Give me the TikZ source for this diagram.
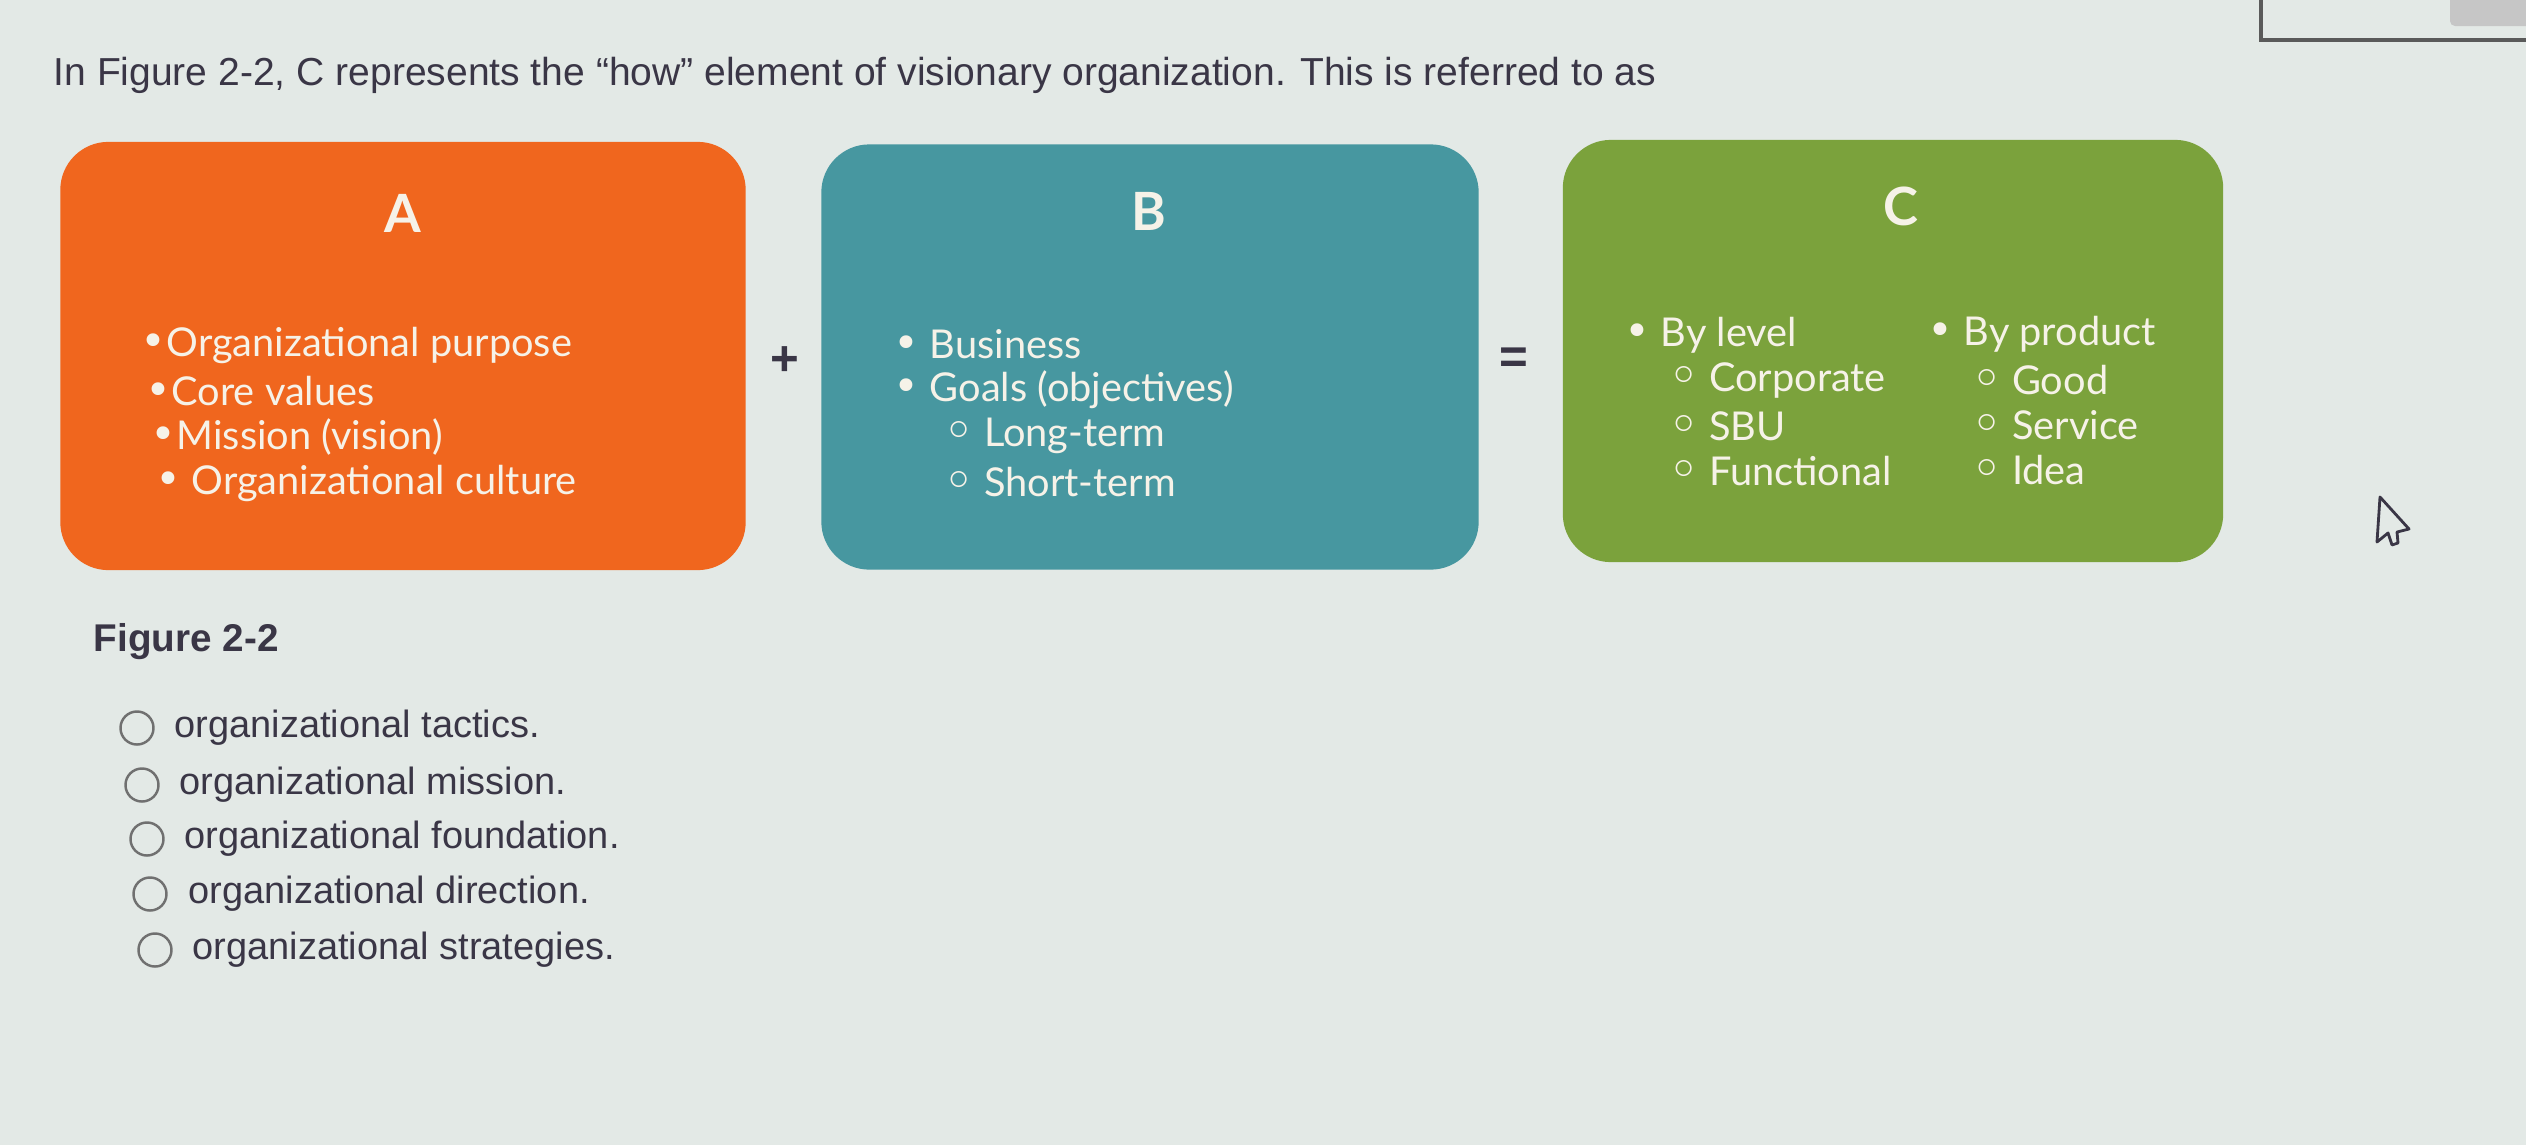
\documentclass[tikz,border=0pt]{standalone}
\usepackage{fontspec}
\setmainfont{Liberation Sans}
\newfontfamily\boxfont{Lato}
\newfontfamily\symfont{DejaVu Sans}
\usetikzlibrary{positioning}

\definecolor{paper}{HTML}{E3E9E6}
\definecolor{ink}{HTML}{3A3646}
\definecolor{ringgray}{HTML}{707070}
\definecolor{orangeA}{HTML}{F0661E}
\definecolor{tealB}{HTML}{4797A0}
\definecolor{greenC}{HTML}{7BA23C}
\definecolor{cardtext}{HTML}{F6F2E8}

\newcommand{\dotb}{{\symfont\fontsize{12.5}{14}\selectfont •}}
\newcommand{\ringb}{{\symfont\bfseries\fontsize{13}{14}\selectfont ◦}}

\tikzset{
	card/.style={rounded corners=0.48cm, inner sep=0pt},
	head/.style={text=cardtext, font=\boxfont\bfseries\fontsize{15}{18}\selectfont},
	item/.style={anchor=west, inner sep=0pt, text=cardtext, font=\boxfont\fontsize{11.3}{14}\selectfont},
	choice/.style={anchor=west, inner sep=0pt, text=ink, font=\fontsize{10.8}{13}\selectfont},
	radio/.style={circle, draw=ringgray, line width=0.7pt, minimum size=0.33cm, inner sep=0pt},
	sign/.style={text=ink, font=\bfseries\fontsize{14}{16}\selectfont}
}

\begin{document}
\begin{tikzpicture}[x=0.01cm, y=-0.01cm]
	\fill[paper] (0,0) rectangle (2526,1145);
	\useasboundingbox (0,0) rectangle (2526,1145);
	% window edge, top right
	\draw[ringgray!80!black, line width=1.2pt] (2261,-10) -- (2261,40) -- (2540,40);
	\fill[gray!45, rounded corners=0.05cm] (2450,-10) rectangle (2540,26);
	% question
	\node[anchor=base west, inner sep=0pt, text=ink, font=\fontsize{11.1}{13}\selectfont] (question) at (53,85) {In Figure 2-2, C represents the “how” element of visionary organization. This is referred to as};
	% A
	\node[card, fill=orangeA, minimum width=6.85cm, minimum height=4.28cm] (boxA) at (403,356) {};
	\node[head] (headA) at (403,213) {A};
	\node[item] (a1) at (140,345) {\dotb Organizational purpose};
	\node[item] (a2) at (145,391) {\dotb Core values};
	\node[item] (a3) at (150,437) {\dotb Mission (vision)};
	\node[item] (a4) at (155,483) {\dotb\ Organizational culture};
	\node[sign] (plus) at (785,361) {+};
	% B
	\node[card, fill=tealB, minimum width=6.57cm, minimum height=4.25cm] (boxB) at (1150,357) {};
	\node[head] (headB) at (1149,211) {B};
	\node[item] (b1) at (893,344) {\dotb\ Business};
	\node[item] (b2) at (893,390) {\dotb\ Goals (objectives)};
	\node[item] (b3) at (944,436) {\ringb\ Long-term};
	\node[item] (b4) at (944,482) {\ringb\ Short-term};
	\node[sign] (equals) at (1514,361) {=};
	% C
	\node[card, fill=greenC, minimum width=6.60cm, minimum height=4.22cm] (boxC) at (1893,351) {};
	\node[head] (headC) at (1901,206) {C};
	\node[item] (c1) at (1624,335) {\dotb\ By level};
	\node[item] (c2) at (1669,381) {\ringb\ Corporate};
	\node[item] (c3) at (1669,426) {\ringb\ SBU};
	\node[item] (c4) at (1669,471) {\ringb\ Functional};
	\node[item] (c5) at (1927,334) {\dotb\ By product};
	\node[item] (c6) at (1972,380) {\ringb\ Good};
	\node[item] (c7) at (1972,425) {\ringb\ Service};
	\node[item] (c8) at (1972,470) {\ringb\ Idea};
	% answers
	\node[anchor=west, inner sep=0pt, text=ink, font=\bfseries\fontsize{11}{13}\selectfont] (figlabel) at (93,642) {Figure 2-2};
	\node[radio] (r1) at (137,728) {};
	\node[choice] (o1) at (174,728) {organizational tactics.};
	\node[radio] (r2) at (142,785) {};
	\node[choice] (o2) at (179,785) {organizational mission.};
	\node[radio] (r3) at (147,839) {};
	\node[choice] (o3) at (184,839) {organizational foundation.};
	\node[radio] (r4) at (150,894) {};
	\node[choice] (o4) at (188,894) {organizational direction.};
	\node[radio] (r5) at (155,950) {};
	\node[choice] (o5) at (192,950) {organizational strategies.};
	% pointer
	\draw[ink, line width=0.8pt, line join=round] (2380,497) -- (2377,542) -- (2388,533) -- (2392,545) -- (2398,543) -- (2397,532) -- (2409,529) -- cycle;
\end{tikzpicture}
\end{document}
